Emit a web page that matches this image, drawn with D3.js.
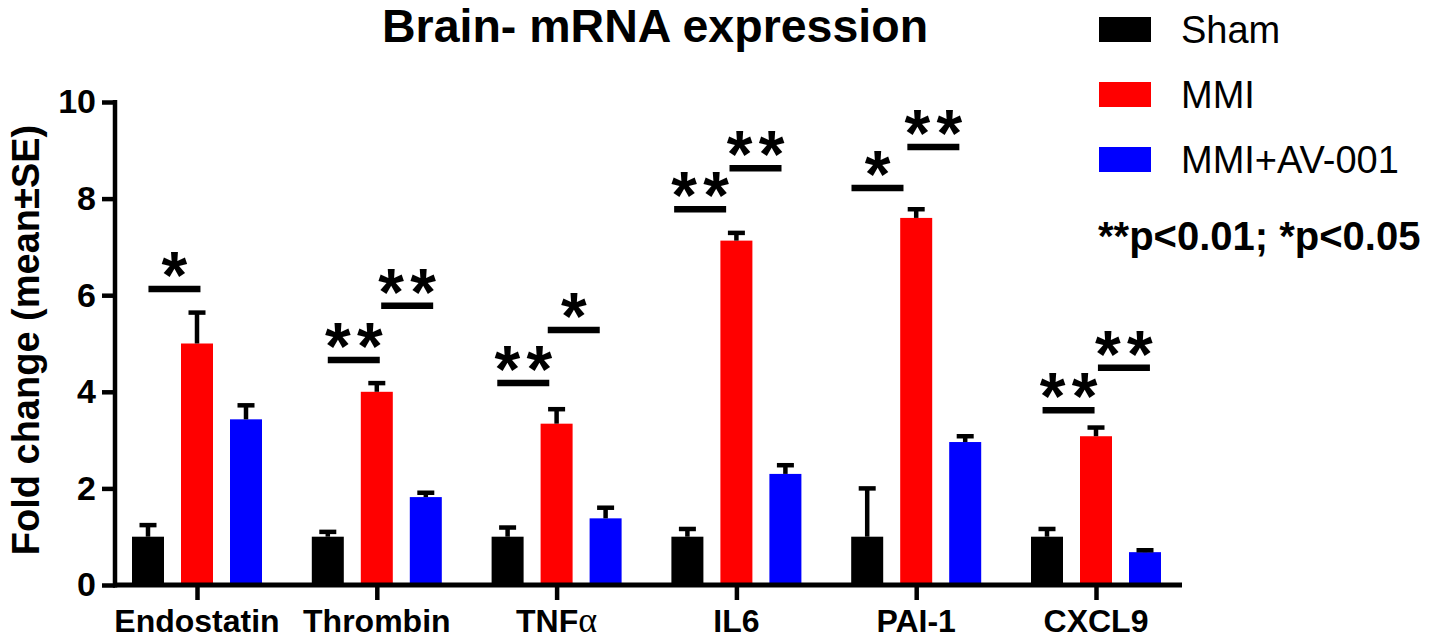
<!DOCTYPE html>
<html>
<head>
<meta charset="utf-8">
<script src="https://cdn.jsdelivr.net/npm/d3@7/dist/d3.min.js"></script>
<style>
  html, body { margin: 0; padding: 0; background: #fff; }
  svg { display: block; }
  text { font-family: "Liberation Sans", Arial, Helvetica, sans-serif; }
</style>
</head>
<body>
<svg id="chart" width="1430" height="643"></svg>
<script>
// ---------- data ----------
const categories = ["Endostatin", "Thrombin", "TNFα", "IL6", "PAI-1", "CXCL9"];
const seriesNames = ["Sham", "MMI", "MMI+AV-001"];
const seriesColors = ["#000000", "#ff0000", "#0000ff"];

const shamMean = [1.0, 1.0, 1.0, 1.0, 1.0, 1.0];
const shamSE   = [0.24, 0.10, 0.19, 0.16, 1.0, 0.16];
const mmiMean  = [5.0, 4.0, 3.34, 7.13, 7.6, 3.08];
const mmiSE    = [0.64, 0.18, 0.30, 0.16, 0.18, 0.18];
const avMean   = [3.43, 1.82, 1.38, 2.30, 2.96, 0.68];
const avSE     = [0.29, 0.09, 0.22, 0.18, 0.12, 0.04];

const yTicks = [0, 2, 4, 6, 8, 10];

// significance annotations: category, bracket centre (in bar-index units), height (fold change), label
const sigCategory = ["Endostatin", "Thrombin", "Thrombin", "TNFα", "TNFα", "IL6", "IL6", "PAI-1", "PAI-1", "CXCL9", "CXCL9"];
const sigAt       = [0.54, 0.53, 1.62, 0.32, 1.35, 0.26, 1.39, 0.21, 1.35, 0.44, 1.57];
const sigValue    = [6.13, 4.66, 5.78, 4.18, 5.28, 7.78, 8.63, 8.22, 9.07, 3.62, 4.50];
const sigLabel    = ["*", "**", "**", "**", "*", "**", "**", "*", "**", "**", "**"];

const titleText = "Brain- mRNA expression";
const yLabelText = "Fold change (mean±SE)";
const noteText = "**p<0.01; *p<0.05";

// ---------- layout ----------
const svg = d3.select("#chart");
const axisLeft = 115, axisRight = 1182, axisBottom = 585, axisTop = 102;
const barW = 32, sigW = 52;

const y = d3.scaleLinear().domain([0, 10]).range([axisBottom, axisTop]);
const x = d3.scalePoint().domain(categories).range([197, 1096]);
const sub = d3.scalePoint().domain(d3.range(seriesNames.length)).range([-49, 49]);

const series = [
  {mean: shamMean, se: shamSE},
  {mean: mmiMean, se: mmiSE},
  {mean: avMean, se: avSE}
];

const barData = [];
series.forEach((s, si) => {
  categories.forEach((c, ci) => {
    barData.push({cat: c, si, v: s.mean[ci], e: s.se[ci]});
  });
});

// bars
svg.append("g").selectAll("rect").data(barData).join("rect")
  .attr("x", d => x(d.cat) + sub(d.si) - barW / 2)
  .attr("width", barW)
  .attr("y", d => y(d.v))
  .attr("height", d => y(0) - y(d.v))
  .attr("fill", d => seriesColors[d.si]);

// error bars (upper only)
const eg = svg.append("g").attr("stroke", "#000").attr("stroke-width", 4.5);
eg.selectAll("line.stem").data(barData).join("line")
  .attr("class", "stem")
  .attr("x1", d => x(d.cat) + sub(d.si))
  .attr("x2", d => x(d.cat) + sub(d.si))
  .attr("y1", d => y(d.v))
  .attr("y2", d => y(d.v + d.e));
eg.selectAll("line.cap").data(barData).join("line")
  .attr("class", "cap")
  .attr("x1", d => x(d.cat) + sub(d.si) - 8.5)
  .attr("x2", d => x(d.cat) + sub(d.si) + 8.5)
  .attr("y1", d => y(d.v + d.e))
  .attr("y2", d => y(d.v + d.e));

// y axis
const yAxis = d3.axisLeft(y).tickValues(yTicks).tickSize(13).tickPadding(6).tickFormat(d3.format("d"));
const gy = svg.append("g").attr("transform", `translate(${axisLeft},0)`).call(yAxis);
gy.select(".domain").remove();
gy.selectAll(".tick line").attr("stroke", "#000").attr("stroke-width", 4.5);
gy.selectAll(".tick text")
  .attr("fill", "#000")
  .style("font-family", '"Liberation Sans", Arial, sans-serif')
  .style("font-size", "34px").style("font-weight", "bold");
svg.append("line")
  .attr("x1", axisLeft).attr("x2", axisLeft)
  .attr("y1", axisTop - 2).attr("y2", axisBottom + 2.5)
  .attr("stroke", "#000").attr("stroke-width", 4.5);

// x axis
const xAxis = d3.axisBottom(x).tickSize(15).tickPadding(10).tickFormat("");
const gx = svg.append("g").attr("transform", `translate(0,${axisBottom})`).call(xAxis);
gx.select(".domain").remove();
gx.selectAll(".tick line").attr("stroke", "#000").attr("stroke-width", 4.5);
svg.append("line")
  .attr("x1", axisLeft - 2).attr("x2", axisRight)
  .attr("y1", axisBottom).attr("y2", axisBottom)
  .attr("stroke", "#000").attr("stroke-width", 5);

// category labels
svg.append("g").selectAll("text").data(categories).join("text")
  .attr("x", d => x(d))
  .attr("y", 632)
  .attr("text-anchor", "middle")
  .style("font-size", "32px").style("font-weight", "bold")
  .each(function(d) {
    const t = d3.select(this);
    if (d.endsWith("α")) {
      t.append("tspan").text(d.slice(0, -1));
      t.append("tspan").text("α")
        .style("font-family", '"Liberation Serif", "DejaVu Serif", serif')
        .style("font-weight", "normal").style("font-size", "36px");
    } else {
      t.text(d);
    }
  });

// significance lines and stars
const sigData = sigCategory.map((c, i) => ({cat: c, at: sigAt[i], v: sigValue[i], lab: sigLabel[i]}));
const sigX = d => x(d.cat) + sub(0) + d.at * (sub(1) - sub(0));
svg.append("g").selectAll("line").data(sigData).join("line")
  .attr("x1", d => sigX(d) - sigW / 2)
  .attr("x2", d => sigX(d) + sigW / 2)
  .attr("y1", d => y(d.v)).attr("y2", d => y(d.v))
  .attr("stroke", "#000").attr("stroke-width", 6.5);
const starData = [];
sigData.forEach(d => {
  const n = d.lab.length;
  for (let k = 0; k < n; k++) {
    const off = n === 1 ? 0 : (k === 0 ? -16 : 16);
    starData.push({cx: sigX(d) + off, v: d.v});
  }
});
svg.append("g").selectAll("text").data(starData).join("text")
  .attr("x", d => d.cx)
  .attr("y", d => y(d.v) + 9)
  .attr("text-anchor", "middle")
  .style("font-size", "66px").style("font-weight", "bold")
  .text("*");

// title
svg.append("text")
  .attr("x", 655).attr("y", 42)
  .attr("text-anchor", "middle")
  .style("font-size", "46.5px").style("font-weight", "bold")
  .text(titleText);

// y label
svg.append("text")
  .attr("transform", "translate(39,340) rotate(-90)")
  .attr("text-anchor", "middle")
  .style("font-size", "38px").style("font-weight", "bold")
  .text(yLabelText);

// legend
const lg = svg.append("g");
const legY = d3.scalePoint().domain(seriesNames).range([29.5, 159.5]);
lg.selectAll("rect").data(seriesNames).join("rect")
  .attr("x", 1099).attr("width", 52)
  .attr("y", d => legY(d) - 12.5).attr("height", 25)
  .attr("fill", (d, i) => seriesColors[i]);
lg.selectAll("text").data(seriesNames).join("text")
  .attr("x", 1181).attr("y", d => legY(d) + 13.5)
  .style("font-size", "38px")
  .text(d => d);

svg.append("text")
  .attr("x", 1098).attr("y", 250)
  .style("font-size", "40px").style("font-weight", "bold")
  .text(noteText);
</script>
</body>
</html>
